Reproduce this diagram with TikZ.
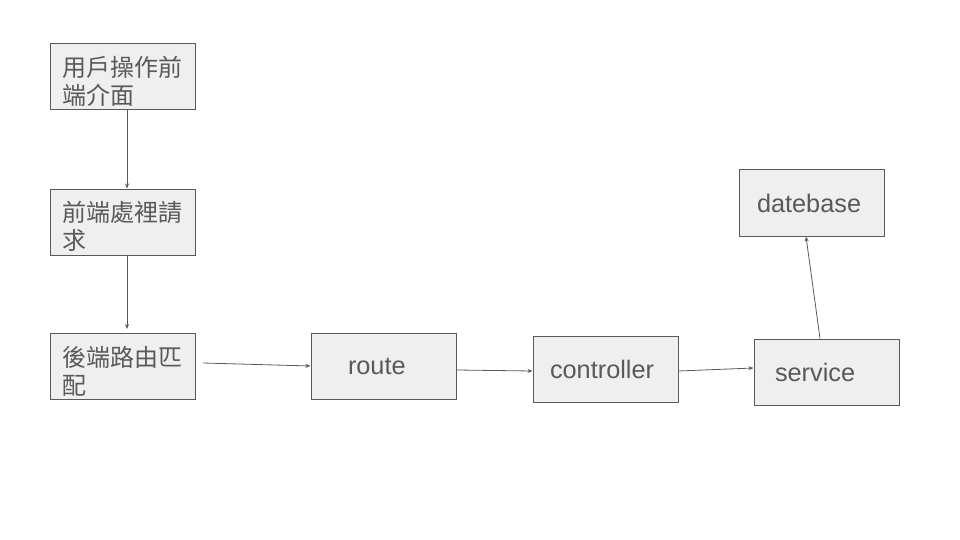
\documentclass[tikz,border=0pt]{standalone}
\usepackage{fontspec}
\setmainfont{Liberation Sans}
\newfontfamily\cjk{Noto Sans CJK TC}
\usetikzlibrary{arrows.meta}
\definecolor{boxfill}{HTML}{EFEFEF}
\definecolor{ink}{HTML}{595959}
% taller first line so the two-line labels sit a little low in their boxes
\newcommand{\firstline}{\rule{0pt}{29pt}}
\tikzset{
  box/.style={draw=ink, fill=boxfill, line width=1pt, text=ink,
    minimum height=66pt, inner ysep=0pt, align=left},
  cjkbox/.style={box, inner xsep=12pt, text width=121pt,
    font=\cjk\fontsize{24}{28}\selectfont},
  wordbox/.style={box, font=\fontsize{25.3}{30}\selectfont},
  link/.style={draw=ink, line width=0.8pt, -{Stealth[length=5pt,width=4pt]}}
}
\begin{document}
\begin{tikzpicture}[x=1pt, y=-1pt]
  \useasboundingbox (0,0) rectangle (960,540);

  % front-end and routing steps
  \node[cjkbox] (ui)    at (122.5,77)    {\firstline 用戶操作前\\端介面};
  \node[cjkbox] (req)   at (122.5,222)   {\firstline 前端處裡請\\求};
  \node[cjkbox] (match) at (122.5,366.5) {\firstline 後端路由匹\\配};

  % back-end layers
  \node[wordbox, inner xsep=37pt, text width=71pt]  (route)      at (383.5,366) {route};
  \node[wordbox, inner xsep=17pt, text width=111pt] (controller) at (605.5,369) {controller};
  \node[wordbox, inner xsep=21pt, text width=103pt] (service)    at (826.5,372) {service};
  \node[wordbox, inner xsep=18pt, text width=109pt] (db)         at (811.5,203) {datebase};

  \coordinate (matchout) at (203,363);

  % connectors
  \draw[link] ([xshift=4.5pt]ui.south) -- ([xshift=4.5pt]req.north);
  \draw[link, shorten >=4pt] ([xshift=4.5pt]req.south) -- ([xshift=4.5pt]match.north);
  \draw[link] (matchout) -- (route.west);
  \draw[link] ([yshift=-4pt]route.east) -- ([yshift=-2pt]controller.west);
  \draw[link] ([yshift=-2pt]controller.east) -- ([yshift=4pt]service.west);
  \draw[link] ([xshift=-6.5pt]service.north) -- ([xshift=-5.5pt]db.south);
\end{tikzpicture}
\end{document}
